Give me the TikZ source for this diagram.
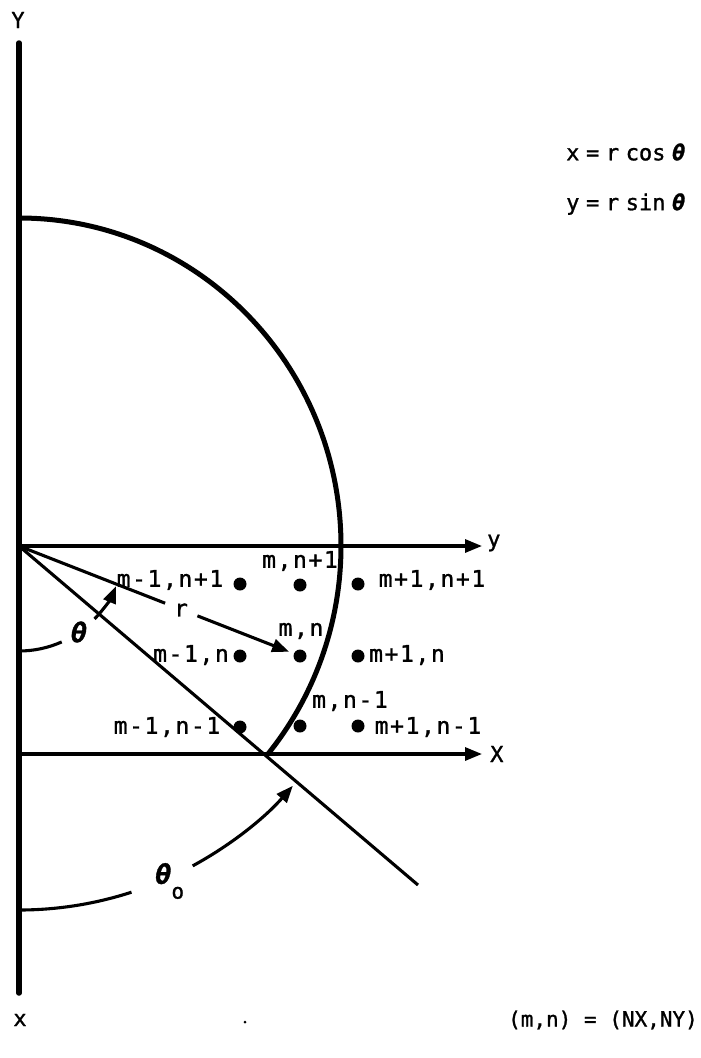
\documentclass[tikz,border=0pt]{standalone}
\usepackage{fontspec}
\setmonofont{DejaVu Sans Mono}
\newfontfamily\lblfont[LetterSpace=7,FakeBold=1.2]{DejaVu Sans Mono}
\newfontfamily\plainfont[FakeBold=1.2]{DejaVu Sans Mono}
\usetikzlibrary{arrows.meta,calc}
\newcommand{\thet}{{\bfseries\itshape θ}}
\begin{document}
\begin{tikzpicture}[x=1pt,y=-1pt,
  axisline/.style={line width=5.5pt, line cap=round},
  rimline/.style={line width=5pt},
  thinline/.style={line width=3.1pt},
  tipped/.style={-{Triangle[length=17pt,width=13pt]}},
  gdot/.style={circle, fill=black, inner sep=0pt, minimum size=13pt},
  lab/.style={font=\lblfont\fontsize{23}{26}\selectfont, inner sep=0pt},
  plab/.style={font=\plainfont\fontsize{22}{26}\selectfont, inner sep=0pt},
  thlabel/.style={font=\plainfont\fontsize{27}{30}\selectfont, inner sep=0pt}
]
\useasboundingbox (0,0) rectangle (701,1058);
% main geometry
\coordinate (O) at (19,546);
\coordinate (Ytop) at (19,43);
\coordinate (Xbot) at (19,993);
\coordinate (ytip) at (482,546);
\coordinate (XL) at (19,754);
\coordinate (Xtip) at (482,754);
\coordinate (D) at (418,885);
\draw[axisline] (Ytop) -- (Xbot);
\draw[rimline] (19,218) arc[start angle=-90, end angle=39.5, x radius=322, y radius=328];
\draw[thinline,tipped] (O) -- (ytip);
\draw[thinline,tipped] (XL) -- (Xtip);
\draw[thinline] (O) -- (D);
% axis labels
\node[plab] (Ylab) at (18,20) {Y};
\node[plab] (xlab) at (20,1020) {x};
\node[plab, anchor=west] (ylab) at (487,543) {y};
\node[plab, anchor=west] (Xlab) at (490,754) {X};
% grid points
\node[gdot] (a1) at (240,584) {};
\node[gdot] (a2) at (300,585) {};
\node[gdot] (a3) at (358,584) {};
\node[gdot] (b1) at (240,656) {};
\node[gdot] (mn) at (300,656) {};
\node[gdot] (b3) at (358,656) {};
\node[gdot] (c1) at (240,727) {};
\node[gdot] (c2) at (300,726) {};
\node[gdot] (c3) at (358,726) {};
% grid labels
\node[lab] (la1) at (170,580) {m-1,n+1};
\node[lab] (la2) at (300,561) {m,n+1};
\node[lab] (la3) at (432,580) {m+1,n+1};
\node[lab] (lb1) at (191,655) {m-1,n};
\node[lab] (lb2) at (301,631) {m,n};
\node[lab] (lb3) at (407,655) {m+1,n};
\node[lab] (lc1) at (167,727) {m-1,n-1};
\node[lab] (lc2) at (350,701) {m,n-1};
\node[lab] (lc3) at (428,727) {m+1,n-1};
% radius r
\node[lab] (rlab) at (181,610) {r};
\draw[thinline] (O) -- ($(O)!0.52!(mn)$);
\draw[thinline,tipped,shorten >=5pt] ($(O)!0.635!(mn)$) -- (mn);
% angle theta
\node[thlabel] (thlab) at (79,632) {\thet};
\draw[thinline] (O) ++(90:105) arc[start angle=90, end angle=66, radius=105];
\draw[thinline,tipped] (O) ++(44:105) arc[start angle=44, end angle=22.5, radius=105];
% angle theta_o
\node[thlabel, anchor=west] (th0lab) at (155,881) {\thet\raisebox{-1.0ex}{\fontsize{21}{24}\selectfont o}};
\draw[thinline] (O) ++(90:364) arc[start angle=90, end angle=72, radius=364];
\draw[thinline,tipped] (O) ++(61.5:364) arc[start angle=61.5, end angle=41.2, radius=364];
% equations
\node[plab, anchor=west] (eq1) at (566,152) {x\hspace{0.3em}=\hspace{0.3em}r\hspace{0.3em}cos\hspace{0.3em}\thet};
\node[plab, anchor=west] (eq2) at (566,204) {y\hspace{0.3em}=\hspace{0.3em}r\hspace{0.3em}sin\hspace{0.3em}\thet};
% bottom
\node[circle, fill=black, inner sep=0pt, minimum size=3pt] (spot) at (245,1022) {};
\node[plab, anchor=east, font=\plainfont\fontsize{21}{24}\selectfont] (mnlab) at (698,1020) {(m,n) = (NX,NY)};
\end{tikzpicture}
\end{document}
